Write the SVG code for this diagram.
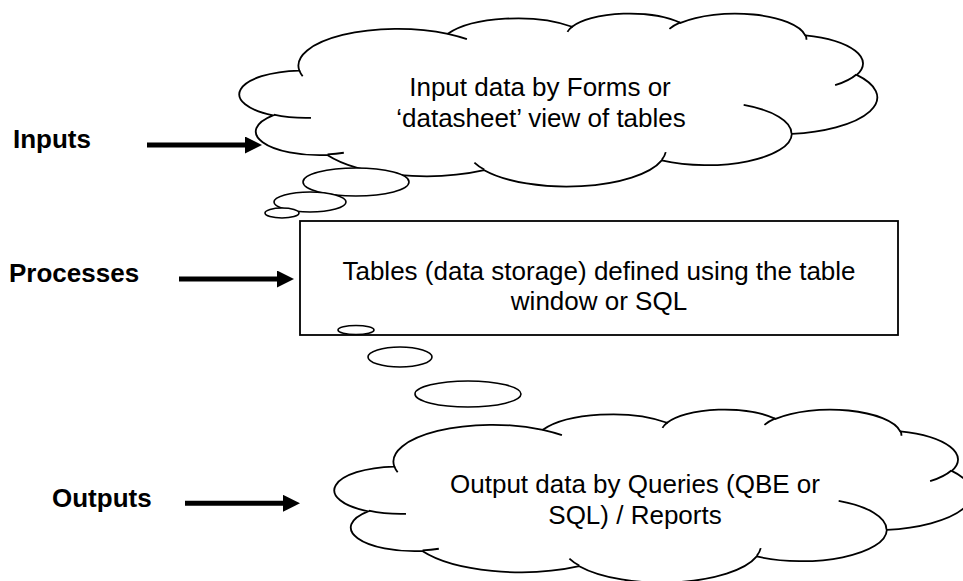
<svg xmlns="http://www.w3.org/2000/svg" xmlns:xlink="http://www.w3.org/1999/xlink" width="963" height="581" viewBox="0 0 963 581">
<style>
.shape{fill:#fff;stroke:#000;stroke-width:1.8;vector-effect:non-scaling-stroke}
.crease{fill:none;stroke:#000;stroke-width:1.8;vector-effect:non-scaling-stroke}
.bub{fill:#fff;stroke:#000;stroke-width:1.6}
.box{fill:#fff;stroke:#000;stroke-width:1.8}
.txt{font-family:"Liberation Sans",Arial,sans-serif;font-size:26px;fill:#000;text-anchor:middle}
.lbl{font-family:"Liberation Sans",Arial,sans-serif;font-size:26px;font-weight:bold;fill:#000}
.arr{stroke:#000;stroke-width:5;fill:none}
</style>
<defs>
<marker id="ah" markerUnits="userSpaceOnUse" markerWidth="17" markerHeight="17" refX="0" refY="8.5" orient="auto">
<path d="M0,0 L17,8.5 L0,17 Z" fill="#000"/>
</marker>
<g id="cloudShape">
<path class="shape" d="M3900,14370 A6753,9190 0 0 1 14003,5201 A5333,7267 0 0 1 22455,3432 A4365,5945 0 0 1 29832,2480 A4857,6595 0 0 1 38317,5575 A5333,7273 0 0 1 41818,15459 A6775,9220 0 0 1 37404,30202 A5785,7867 0 0 1 28555,36812 A6752,9215 0 0 1 16480,39263 A7720,10543 0 0 1 5804,35469 A4360,5918 0 0 1 2113,25548 A4345,5945 0 0 1 3900,14370 Z"/>
<path class="crease" d="M4693,26177 A4345,5945 0 0 1 2160,25380 M6928,34899 A4360,5918 0 0 1 5820,35280 M16478,39090 A6752,9215 0 0 1 15810,37350 M28827,34751 A6752,9215 0 0 1 28558,36660 M34129,22954 A5785,7867 0 0 1 37380,30090 M41798,15354 A5333,7273 0 0 1 40350,18030 M38324,5426 A4857,6595 0 0 1 38400,6690 M29078,3952 A4857,6595 0 0 1 29820,2340 M22141,4720 A4365,5945 0 0 1 22500,3330 M14000,5192 A6753,9190 0 0 1 15302,6542 M4127,15789 A6753,9190 0 0 1 3900,14370"/>
</g>
</defs>
<rect width="963" height="581" fill="#fff"/>

<g id="input-cloud">
<use href="#cloudShape" transform="translate(242,13) scale(0.0146991,0.0040046)"/>
<text class="txt" x="540" y="96">Input data by Forms or</text>
<text class="txt" x="541" y="126.7">‘datasheet’ view of tables</text>
</g>

<g id="bubbles-1">
<ellipse class="bub" cx="356" cy="182" rx="53" ry="14"/>
<ellipse class="bub" cx="310" cy="202" rx="36" ry="10"/>
<ellipse class="bub" cx="282" cy="213" rx="17" ry="5"/>
</g>

<g id="process-box">
<rect class="box" x="300" y="221" width="598" height="114"/>
<text class="txt" x="599" y="280">Tables (data storage) defined using the table</text>
<text class="txt" x="599" y="310">window or SQL</text>
</g>

<g id="bubbles-2">
<ellipse class="bub" cx="356" cy="330" rx="18" ry="4.5"/>
<ellipse class="bub" cx="400" cy="357" rx="32" ry="10"/>
<ellipse class="bub" cx="468" cy="394" rx="53" ry="13"/>
</g>

<g id="output-cloud">
<use href="#cloudShape" transform="translate(337,409) scale(0.0146991,0.0040046)"/>
<text class="txt" x="635" y="493.3">Output data by Queries (QBE or</text>
<text class="txt" x="635" y="524">SQL) / Reports</text>
</g>

<g id="label-inputs"><text class="lbl" x="13" y="148">Inputs</text></g>
<g id="label-processes"><text class="lbl" x="9" y="281.7">Processes</text></g>
<g id="label-outputs"><text class="lbl" x="52" y="506.7">Outputs</text></g>

<g id="connectors">
<line class="arr" x1="147" y1="145" x2="245" y2="145" marker-end="url(#ah)"/>
<line class="arr" x1="179" y1="279" x2="277" y2="279" marker-end="url(#ah)"/>
<line class="arr" x1="185" y1="503.3" x2="283" y2="503.3" marker-end="url(#ah)"/>
</g>
</svg>
